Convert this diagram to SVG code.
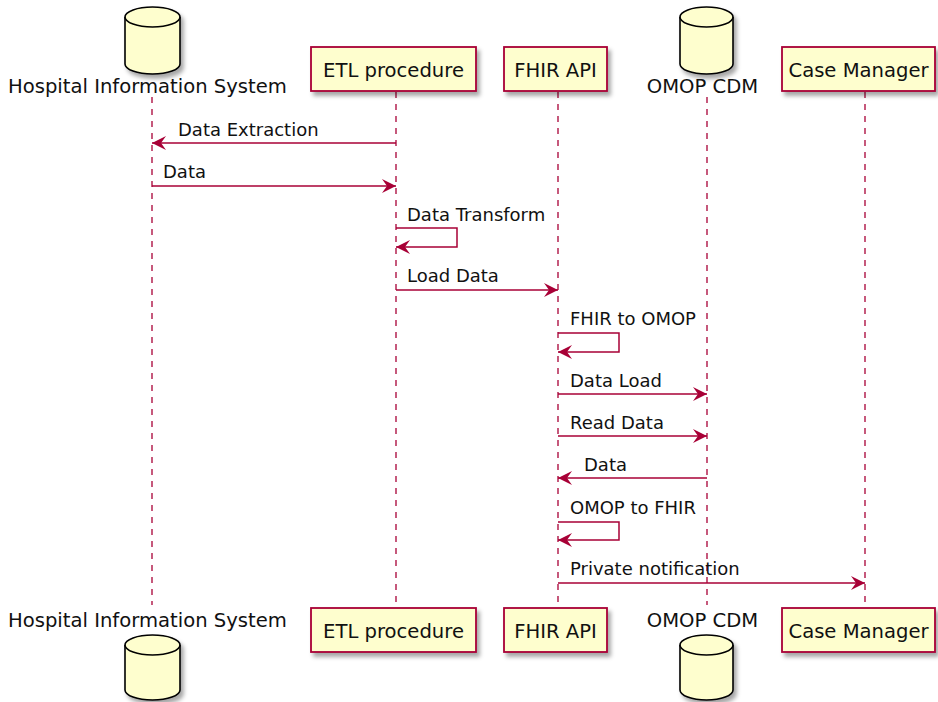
<svg xmlns="http://www.w3.org/2000/svg" width="938" height="702" viewBox="0 0 938 702">
<defs>
<filter id="sh" x="-10%" y="-10%" width="130%" height="140%">
<feDropShadow dx="3" dy="4" stdDeviation="2" flood-color="#000" flood-opacity="0.35"/>
</filter>
<marker id="ah" viewBox="0 0 15 14" refX="14" refY="7" markerWidth="15" markerHeight="14" markerUnits="userSpaceOnUse" orient="auto">
<polygon points="14,7 0,0 5,7 0,14" fill="#A80036"/>
</marker>
</defs>
<style>
text{font-family:"DejaVu Sans","Liberation Sans",sans-serif;font-size:18px;fill:#111}
.p{font-size:19.6px}
.box{fill:#FEFECE;stroke:#A80036;stroke-width:1.8}
.db{fill:#FEFECE;stroke:#000;stroke-width:1.6}
.life{stroke:#A80036;stroke-width:1.3;stroke-dasharray:6,6;fill:none}
.msg{stroke:#A80036;stroke-width:1.5;fill:none;marker-end:url(#ah)}
</style>
<rect width="938" height="702" fill="#fff"/>
<g id="lifelines">
<line class="life" x1="152" y1="97" x2="152" y2="605"/>
<line class="life" x1="396" y1="92" x2="396" y2="608"/>
<line class="life" x1="558" y1="92" x2="558" y2="608"/>
<line class="life" x1="707" y1="97" x2="707" y2="605"/>
<line class="life" x1="865" y1="92" x2="865" y2="608"/>
</g>
<g id="his">
<path class="db" filter="url(#sh)" d="M125,17 A27.5,10 0 0 1 180,17 L180,64 A27.5,10 0 0 1 125,64 Z"/>
<path class="db" d="M125,17 A27.5,10 0 0 0 180,17" fill="none"/>
<text class="p" x="8" y="93">Hospital Information System</text>
<text class="p" x="8" y="627">Hospital Information System</text>
<path class="db" filter="url(#sh)" d="M125,645 A27.5,10 0 0 1 180,645 L180,690 A27.5,10 0 0 1 125,690 Z"/>
<path class="db" d="M125,645 A27.5,10 0 0 0 180,645" fill="none"/>
</g>
<g id="etl">
<rect class="box" filter="url(#sh)" x="311" y="47" width="165" height="44"/>
<text class="p" x="393.5" y="77" text-anchor="middle">ETL procedure</text>
<rect class="box" filter="url(#sh)" x="311" y="608" width="165" height="44"/>
<text class="p" x="393.5" y="638" text-anchor="middle">ETL procedure</text>
</g>
<g id="fhir">
<rect class="box" filter="url(#sh)" x="504" y="47" width="103" height="44"/>
<text class="p" x="555.5" y="77" text-anchor="middle">FHIR API</text>
<rect class="box" filter="url(#sh)" x="504" y="608" width="103" height="44"/>
<text class="p" x="555.5" y="638" text-anchor="middle">FHIR API</text>
</g>
<g id="omop">
<path class="db" filter="url(#sh)" d="M680,17 A26.5,10 0 0 1 733,17 L733,64 A26.5,10 0 0 1 680,64 Z"/>
<path class="db" d="M680,17 A26.5,10 0 0 0 733,17" fill="none"/>
<text class="p" x="702.5" y="93" text-anchor="middle">OMOP CDM</text>
<text class="p" x="702.5" y="627" text-anchor="middle">OMOP CDM</text>
<path class="db" filter="url(#sh)" d="M680,645 A26.5,10 0 0 1 733,645 L733,690 A26.5,10 0 0 1 680,690 Z"/>
<path class="db" d="M680,645 A26.5,10 0 0 0 733,645" fill="none"/>
</g>
<g id="casemanager">
<rect class="box" filter="url(#sh)" x="782" y="47" width="153" height="44"/>
<text class="p" x="858.5" y="77" text-anchor="middle">Case Manager</text>
<rect class="box" filter="url(#sh)" x="782" y="608" width="153" height="44"/>
<text class="p" x="858.5" y="638" text-anchor="middle">Case Manager</text>
</g>
<g id="connectors">
<line class="msg" x1="396" y1="143" x2="152" y2="143"/>
<text x="178" y="136">Data Extraction</text>
<line class="msg" x1="152" y1="186" x2="396" y2="186"/>
<text x="163" y="178">Data</text>
<polyline class="msg" points="396,228 457,228 457,247 396,247"/>
<text x="407" y="221">Data Transform</text>
<line class="msg" x1="396" y1="290" x2="558" y2="290"/>
<text x="407" y="282">Load Data</text>
<polyline class="msg" points="558,333 619,333 619,352 558,352"/>
<text x="570" y="325">FHIR to OMOP</text>
<line class="msg" x1="558" y1="394" x2="707" y2="394"/>
<text x="570" y="387">Data Load</text>
<line class="msg" x1="558" y1="436" x2="707" y2="436"/>
<text x="570" y="429">Read Data</text>
<line class="msg" x1="707" y1="478" x2="558" y2="478"/>
<text x="584" y="471">Data</text>
<polyline class="msg" points="558,522 619,522 619,540 558,540"/>
<text x="570" y="514">OMOP to FHIR</text>
<line class="msg" x1="558" y1="583" x2="865" y2="583"/>
<text x="570" y="575">Private notification</text>
</g>
</svg>
